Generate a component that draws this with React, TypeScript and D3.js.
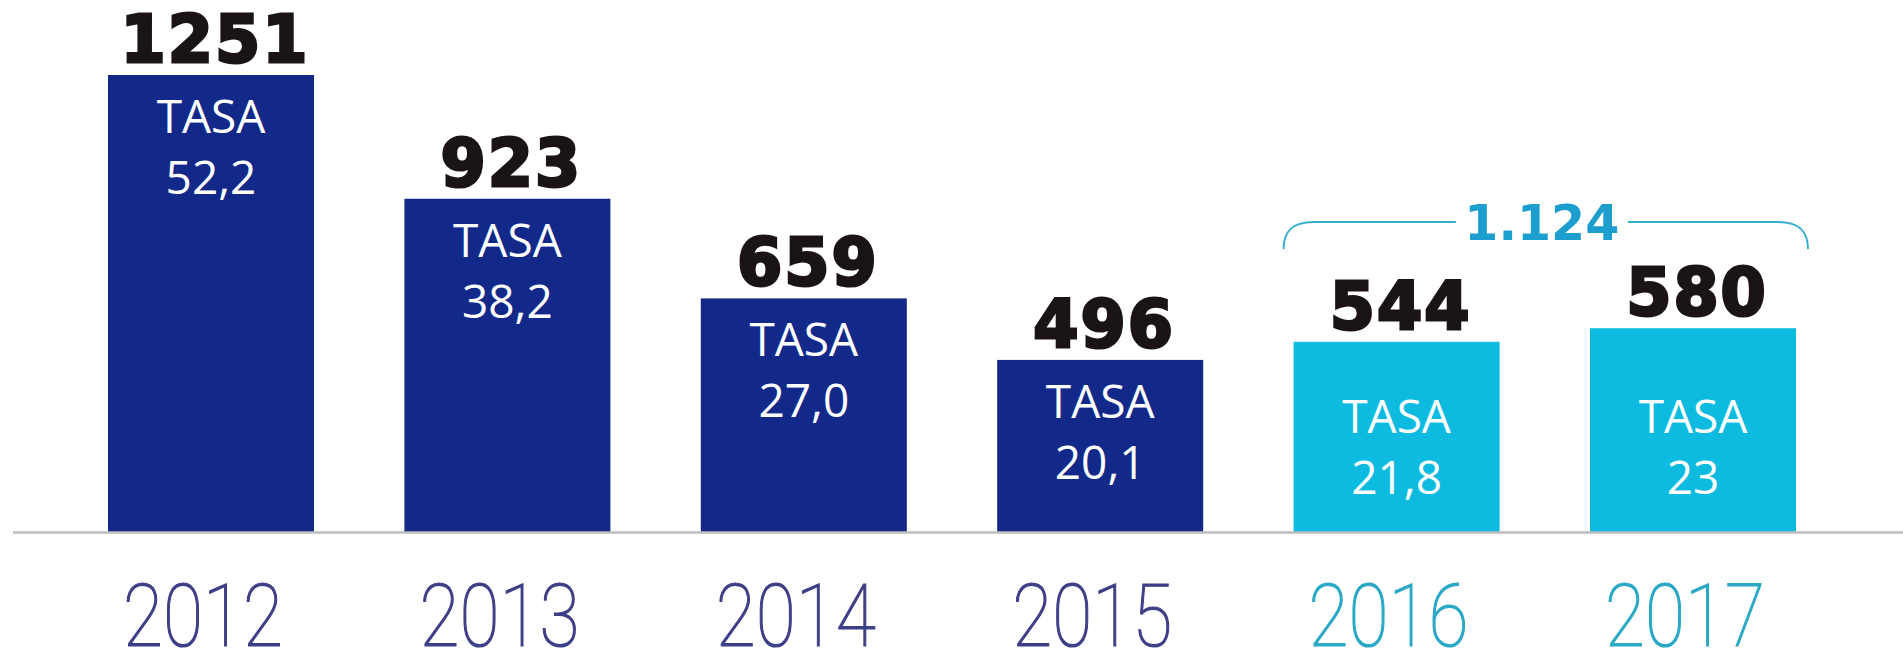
import * as d3 from 'd3';

// Homicidios por año + tasa por 100.000 hab.
const YEARS = ['2012', '2013', '2014', '2015', '2016', '2017'];
const VALUES = [1251, 923, 659, 496, 544, 580];
const RATES = ['52,2', '38,2', '27,0', '20,1', '21,8', '23'];
const HIGHLIGHT = ['2016', '2017'];

const W = 1903;
const H = 654;
const BASE_Y = 532;

const NAVY = '#13298a';
const CYAN = '#0dbbe0';
const NAVY_TEXT = '#3d3f86';
const CYAN_TEXT = '#2aa8c6';
const BRACKET = '#35aed0';

export default function App() {
  const x = d3.scaleBand<string>().domain(YEARS).range([108, 1796]).paddingInner(0.305).paddingOuter(0);
  // bars are not strictly proportional in the original; offset domain fits them better
  const y = d3.scaleLinear().domain([40, 1251]).range([BASE_Y, 75]);
  const bw = x.bandwidth();

  const isHi = (yr: string) => HIGHLIGHT.includes(yr);
  const total = d3.sum(YEARS.map((yr, i) => (isHi(yr) ? VALUES[i] : 0)));

  // bracket over the highlighted years
  const bx0 = (x(HIGHLIGHT[0]) ?? 0) - 10;
  const bx1 = (x(HIGHLIGHT[HIGHLIGHT.length - 1]) ?? 0) + bw + 12;
  const bMid = (bx0 + bx1) / 2 - 4;
  const bY = 222;
  const bEnd = 249;
  const gap = 86;
  const leftPath = `M${bx0},${bEnd} C${bx0},${bY + 10} ${bx0 + 8},${bY} ${bx0 + 30},${bY} L${bMid - gap},${bY}`;
  const rightPath = `M${bMid + gap},${bY} L${bx1 - 30},${bY} C${bx1 - 8},${bY} ${bx1},${bY + 10} ${bx1},${bEnd}`;

  return (
    <svg
      width={W}
      height={H}
      style={{ position: 'absolute', left: 0, top: 0, background: '#fff' }}
    >
      {/* bars */}
      {YEARS.map((yr, i) => (
        <rect
          key={yr}
          x={x(yr)}
          y={y(VALUES[i])}
          width={bw}
          height={BASE_Y - y(VALUES[i])}
          fill={isHi(yr) ? CYAN : NAVY}
        />
      ))}

      {/* baseline */}
      <line x1={13} x2={W} y1={BASE_Y + 0.5} y2={BASE_Y + 0.5} stroke="#bdbdbd" strokeWidth={2.5} />

      {/* value labels */}
      {YEARS.map((yr, i) => (
        <text
          key={yr}
          x={(x(yr) ?? 0) + bw / 2 + 4}
          y={y(VALUES[i]) - 13}
          textAnchor="middle"
          fontFamily="'DejaVu Sans', sans-serif"
          fontWeight={700}
          fontSize={65}
          letterSpacing={2}
          fill="#1b1414"
          stroke="#1b1414"
          strokeWidth={3}
        >
          {d3.format('d')(VALUES[i])}
        </text>
      ))}

      {/* TASA inside bars */}
      {YEARS.map((yr, i) => {
        const capTop = isHi(yr) ? 400 : y(VALUES[i]) + 25;
        const cx = (x(yr) ?? 0) + bw / 2;
        return (
          <g key={yr} fill="#fff" fontFamily="'Open Sans', sans-serif" fontWeight={500} fontSize={46} textAnchor="middle">
            <text x={cx} y={capTop + 33}>TASA</text>
            <text x={cx} y={capTop + 94}>{RATES[i]}</text>
          </g>
        );
      })}

      {/* year axis */}
      {YEARS.map((yr) => (
        <text
          key={yr}
          x={(x(yr) ?? 0) + bw / 2 - 8}
          y={646}
          textAnchor="middle"
          fontFamily="Roboto, sans-serif"
          fontWeight={100}
          fontSize={88}
          textLength={160}
          lengthAdjust="spacingAndGlyphs"
          fill={isHi(yr) ? CYAN_TEXT : NAVY_TEXT}
          stroke={isHi(yr) ? CYAN_TEXT : NAVY_TEXT}
          strokeWidth={1.2}
        >
          {yr}
        </text>
      ))}

      {/* bracket + total */}
      <path d={leftPath} fill="none" stroke={BRACKET} strokeWidth={2} />
      <path d={rightPath} fill="none" stroke={BRACKET} strokeWidth={2} />
      <text
        x={bMid}
        y={bY + 18}
        textAnchor="middle"
        fontFamily="'DejaVu Sans', sans-serif"
        fontWeight={700}
        fontSize={49}
        fill="#1c9fcf"
      >
        {d3.format(',')(total).replace(',', '.')}
      </text>
    </svg>
  );
}
